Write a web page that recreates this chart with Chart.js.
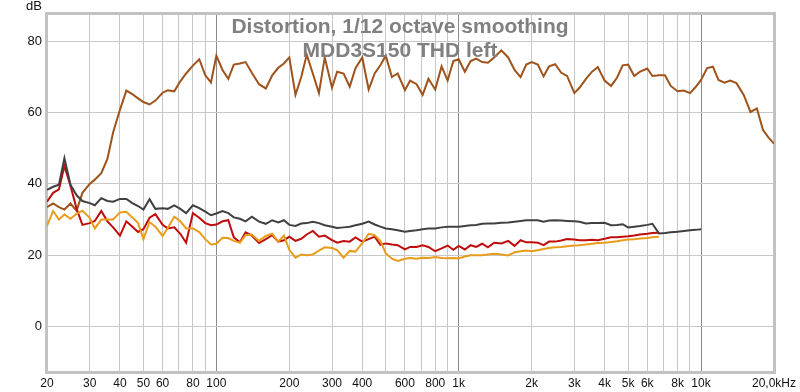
<!DOCTYPE html>
<html>
<head>
<meta charset="utf-8">
<script src="https://cdn.jsdelivr.net/npm/chart.js@4/dist/chart.umd.min.js"></script>
<style>
html, body { margin: 0; padding: 0; background: #fff; }
</style>
</head>
<body>
<canvas id="distChart" width="800" height="392"></canvas>
<script>
// Frequenzen (Hz), 1/40 Dekade
const freqs = [
    20, 21.2, 22.4, 23.6, 25, 26.5, 28, 30, 31.5, 33.5, 35.5, 37.5, 40, 42.5, 45, 47.5, 50, 53, 56, 60, 63, 67, 71, 75, 80, 85, 90, 95,
    100, 106, 112, 118, 125, 132, 140, 150, 160, 170, 180, 190, 200, 212, 224, 236, 250, 265, 280, 300, 315, 335, 355, 375, 400, 425, 450, 475, 500, 530, 560, 600, 630, 670, 710, 750, 800, 850, 900, 950,
    1000, 1060, 1120, 1180, 1250, 1320, 1400, 1500, 1600, 1700, 1800, 1900, 2000, 2120, 2240, 2360, 2500, 2650, 2800, 3000, 3150, 3350, 3550, 3750, 4000, 4250, 4500, 4750, 5000, 5300, 5600, 6000, 6300, 6700, 7100, 7500, 8000, 8500, 9000, 9500,
    10000, 10600, 11200, 11800, 12500, 13200, 14000, 15000, 16000, 17000, 18000, 19000, 20000
];

// Grundton (braun)
const fundamental = [
    33.5, 34.5, 33.5, 32.8, 34.5, 32.5, 37.5, 40, 41.2, 43,
    47, 54.5, 60.8, 66.2, 65.2, 64, 63, 62.3, 63.4, 65.6,
    66.3, 66, 68.8, 71, 73.2, 75, 70.5, 68.5, 76, 72,
    69.5, 73.5, 73.8, 74.2, 71.2, 68, 66.8, 70.5, 72.6, 73.8,
    75.5, 65, 70, 76.3, 71, 65.5, 75.5, 67, 71.5, 71,
    67.3, 72.5, 75.5, 66.5, 71, 73.3, 76, 70, 71, 66.3,
    69, 68, 65, 69.5, 66.5, 73, 69, 74.5, 75, 71.5,
    74.5, 75.2, 74.2, 74, 75.5, 77.5, 75.5, 72, 70, 73.5,
    74.2, 73.5, 70.2, 73, 73.6, 71.2, 70.3, 65.5, 67, 69.5,
    71.5, 72.8, 69, 67.5, 69.8, 73.3, 73.5, 70.3, 71.5, 72.4,
    70.3, 70.5, 70.5, 67.5, 66, 66.2, 65.5, 67.2, 69.2, 72.5,
    72.9, 69.2, 68.4, 69, 68.3, 65, 60.2, 61.2, 55.2, 53, 51.3
];

// THD (dunkelgrau), bis 10 kHz
const thd = [
    38.3, 39.2, 39.8, 47.2, 39.8, 36.8, 35.2, 34.6, 34, 36,
    35.2, 35, 35.8, 35.8, 34.6, 33.8, 32.8, 35.7, 33, 33.2,
    33, 34, 33, 31.8, 34, 33.2, 32.2, 31.2, 31.7, 32.4,
    31.8, 30.6, 30.2, 29.5, 30.8, 29.4, 28.8, 29.8, 29.2, 29.8,
    28.5, 28.2, 28.9, 29, 29.4, 29, 28.4, 28, 27.6, 27.8,
    28, 28.4, 28.8, 29.4, 28.6, 28, 27.5, 27.3, 27, 26.6,
    26.8, 27, 27.3, 27.5, 27.5, 27.8, 28, 28, 28, 28.2,
    28.4, 28.5, 28.8, 28.9, 28.9, 29.1, 29.2, 29.4, 29.6, 29.8,
    29.8, 29.8, 29.4, 29.7, 29.8, 29.7, 29.6, 29.5, 29.4, 28.9,
    29, 29, 29.1, 28.4, 28.5, 28.7, 27.8, 28, 28.2, 28.5,
    28.8, 26.1, 26.2, 26.4, 26.6, 26.8, 27, 27.1, 27.3
];

// H2 (rot), bis ca. 6,7 kHz
const h2 = [
    35, 37.5, 38.5, 45, 39.5, 33, 28.5, 29, 29.6, 32.4,
    29.5, 27.8, 25.5, 29.5, 28, 26.5, 27.3, 30.5, 31.5, 28.5,
    27.5, 27.8, 26, 23.5, 31.8, 30.5, 29, 28.4, 28.6, 29.5,
    29.8, 25, 23.6, 26.4, 25.5, 23.4, 24.5, 25.6, 23.8, 24.2,
    25.2, 24, 24.6, 25.8, 26.8, 25.2, 25.5, 24.2, 23.5, 24,
    23.8, 25, 23.8, 24.5, 25.2, 22.9, 23.3, 23, 22.8, 21.6,
    22.3, 22.3, 22.8, 22.3, 21.1, 21.9, 22.7, 21.5, 22.6, 21.6,
    22.8, 22.3, 23.2, 22.2, 23.5, 23.3, 24, 22.6, 24.2, 23.6,
    23.6, 23.5, 22.8, 23.8, 23.8, 24.1, 24.5, 24.4, 24.2, 24.2,
    24.3, 24.2, 24.6, 25, 25, 25.2, 25.3, 25.5, 25.8, 26,
    26.2, 26.3
];

// H3 (orange), bis ca. 6,7 kHz
const h3 = [
    28.2, 32.4, 30, 31.4, 30.2, 31.6, 32.5, 30.5, 27.5, 30,
    30, 30, 32, 32.2, 30.6, 29, 24.5, 29.3, 28, 25.4,
    27.6, 30.8, 29.5, 27.5, 27.5, 26.5, 24.5, 23, 23.2, 24.9,
    24.8, 24, 23.5, 25.6, 25.8, 24, 25.4, 26, 23.8, 25.5,
    21.5, 19.3, 20.2, 20, 20.2, 21.3, 22.2, 22, 21.4, 19.3,
    21.2, 21, 23.4, 26, 25.6, 24, 20.5, 19, 18.4, 19,
    19.2, 19, 19.3, 19.2, 19.5, 19.2, 19.1, 19.2, 19.1, 19.6,
    20, 20, 20, 20.2, 20.4, 20.2, 19.9, 20.8, 21.1, 21.3,
    21.1, 21.4, 21.7, 22, 22.2, 22.3, 22.5, 22.7, 22.8, 23,
    23.2, 23.4, 23.5, 23.7, 23.9, 24.2, 24.4, 24.5, 24.7, 24.8,
    25, 25.2
];

// Achsen
const xGridFreqs = [20, 30, 40, 50, 60, 70, 80, 90, 100, 200, 300, 400, 500, 600, 700, 800, 900,
    1000, 2000, 3000, 4000, 5000, 6000, 7000, 8000, 9000, 10000, 20000];
const xTickLabels = ['20', '30', '40', '50', '60', '', '80', '', '100', '200', '300', '400', '', '600', '', '800', '',
    '1k', '2k', '3k', '4k', '5k', '6k', '', '8k', '', '10k', '20,0kHz'];
const strongFreqs = [100, 1000, 10000];
const yTicks = [0, 20, 40, 60, 80];
const titleLines = ['Distortion, 1/12 octave smoothing', 'MDD3S150 THD left'];

function toPoints(values) {
    return values.map((v, i) => ({ x: freqs[i], y: v }));
}

// Rahmen um den Plotbereich
const framePlugin = {
    id: 'frame',
    beforeDatasetsDraw(chart) {
        const { ctx, chartArea: a } = chart;
        ctx.save();
        ctx.strokeStyle = '#c2c2c2';
        ctx.lineWidth = 3;
        ctx.strokeRect(a.left - 0.5, a.top - 0.5, a.right - a.left + 1, a.bottom - a.top + 1);
        ctx.restore();
    }
};

// Titel und dB-Beschriftung über den Kurven
const titlePlugin = {
    id: 'overlayTitle',
    afterDatasetsDraw(chart) {
        const { ctx, chartArea: a } = chart;
        ctx.save();
        ctx.font = 'bold 21px "Liberation Sans", Arial, sans-serif';
        ctx.fillStyle = '#808080';
        ctx.textAlign = 'center';
        ctx.textBaseline = 'alphabetic';
        ctx.fillText(titleLines[0], chart.width / 2, a.top + 19);
        ctx.fillText(titleLines[1], chart.width / 2, a.top + 43);

        ctx.font = '13px "Liberation Sans", Arial, sans-serif';
        ctx.fillStyle = '#111';
        ctx.textAlign = 'right';
        ctx.fillText('dB', a.left - 5, 10);
        ctx.restore();
    }
};

const line = (data, color, order) => ({
    data: toPoints(data),
    borderColor: color,
    borderWidth: 2,
    pointRadius: 0,
    tension: 0,
    fill: false,
    order
});

new Chart(document.getElementById('distChart'), {
    type: 'line',
    data: {
        datasets: [
            line(thd, '#404040', 0),
            line(h3, '#e89c1c', 1),
            line(h2, '#c00c0c', 2),
            line(fundamental, '#9e531c', 3)
        ]
    },
    options: {
        responsive: false,
        animation: false,
        layout: { padding: { top: 14, right: 22, left: 0, bottom: 0 } },
        plugins: {
            legend: { display: false },
            tooltip: { enabled: false }
        },
        scales: {
            x: {
                type: 'logarithmic',
                min: 20,
                max: 20000,
                afterBuildTicks: scale => { scale.ticks = xGridFreqs.map(v => ({ value: v })); },
                afterFit: scale => { scale.height = 20; },
                ticks: {
                    autoSkip: false,
                    maxRotation: 0,
                    padding: 4,
                    color: '#111',
                    font: { family: '"Liberation Sans", Arial, sans-serif', size: 12 },
                    callback: (value, index) => xTickLabels[index]
                },
                grid: {
                    color: ctx => strongFreqs.includes(ctx.tick && ctx.tick.value) ? '#8a8a8a' : '#c8c8c8',
                    drawTicks: false
                },
                border: { display: false }
            },
            y: {
                min: -12.8,
                max: 87.7,
                afterBuildTicks: scale => { scale.ticks = yTicks.map(v => ({ value: v })); },
                afterFit: scale => { scale.width = 47; },
                ticks: {
                    padding: 5,
                    color: '#111',
                    font: { family: '"Liberation Sans", Arial, sans-serif', size: 13 }
                },
                grid: { color: '#c8c8c8', drawTicks: false },
                border: { display: false }
            }
        }
    },
    plugins: [framePlugin, titlePlugin]
});
</script>
</body>
</html>
